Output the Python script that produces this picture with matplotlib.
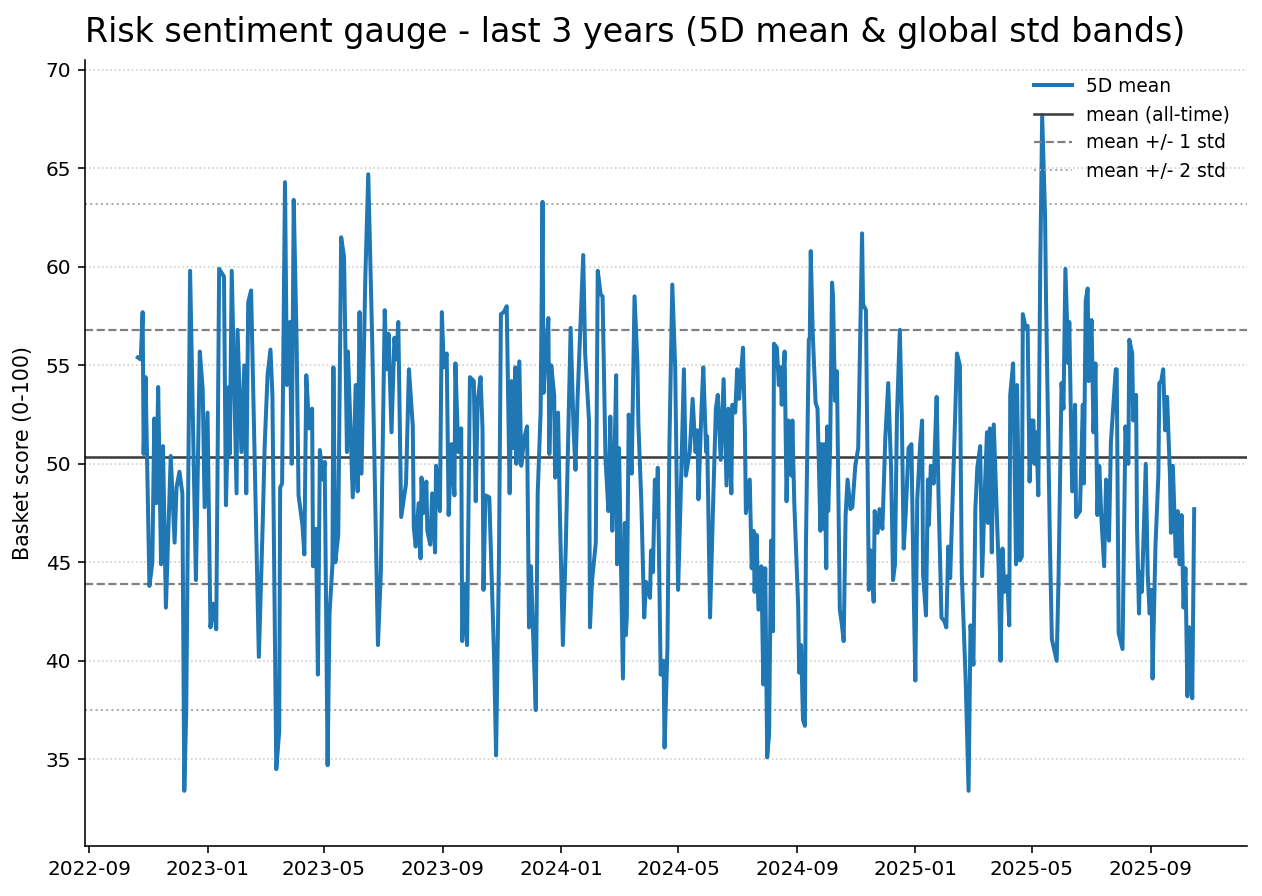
import matplotlib
matplotlib.use("Agg")
import matplotlib.pyplot as plt
import matplotlib.dates as mdates
import pandas as pd
import numpy as np

base_date = "2022-09-01"

# day offsets from base_date
day_offset = [
    50, 53, 55, 56, 58, 62, 65, 67, 69, 71, 74, 76, 79, 84, 88, 90, 93, 96, 98, 100,
    104, 110, 114, 117, 119, 122, 125, 128, 131, 134, 139, 141, 144, 145, 147, 152, 153, 157, 160, 162,
    164, 167,
    175, 179, 181, 184, 187, 189, 193, 196, 197, 199, 202, 204, 207, 209, 211, 214, 216, 220, 222, 224,
    227, 230, 231, 234, 236, 238, 241, 243, 246, 248, 251, 252, 254, 257, 260, 263, 266, 267, 272, 275,
    277, 279, 281, 285, 288, 292, 298,
    301, 305, 307, 309, 312, 315, 317, 319, 322, 327, 330, 334, 335, 337, 340, 342, 343, 345, 348, 349,
    352, 354, 357, 358, 362, 364, 366, 369, 371, 374, 377, 378, 381, 384, 385, 388, 390, 393, 397, 399,
    401, 404, 406, 407, 409, 413, 418, 420, 423, 425, 428, 431, 434,
    436, 438, 440, 441, 444, 446, 449, 452, 454, 456, 458, 461, 463, 466, 468, 469, 471, 474, 475, 477,
    480, 481, 484, 486, 489, 492, 497, 500, 502, 504, 507, 510, 512, 516, 517, 519, 523, 525, 528, 530,
    533, 536, 538, 540, 542, 544, 545, 547, 549,
    551, 553, 554, 555, 557, 560, 563, 566, 567, 570, 573, 575, 579, 580, 582, 584, 586, 587, 590, 593,
    594, 597, 599, 602, 605, 608, 611, 614, 616, 620, 623, 626, 628, 629, 632, 634, 637, 638, 641, 644,
    647, 649, 652, 655, 658, 660, 663, 664, 667, 669, 671,
    675, 677, 678, 682, 684, 686, 687, 689, 691, 694, 696, 698, 700, 702, 704, 706, 707, 710, 712, 714,
    715, 718, 719, 720, 722, 725, 726, 728, 732, 733, 735, 737, 739, 740, 743, 744, 745, 747, 750, 752,
    755, 756, 757, 759, 761, 762, 763, 765, 767, 768, 770, 772, 775, 777, 779, 781, 783, 786, 788, 791,
    794,
    798, 799, 802, 805, 807, 810, 811, 814, 816, 819, 822, 825, 828, 830, 832, 834, 837, 839, 841, 843,
    846, 849, 851, 853, 855, 858, 860, 861, 864, 866, 867, 869, 872, 873, 875, 877, 880, 883, 885, 887,
    889, 894, 896, 899, 901, 905, 908, 910, 913, 915, 917,
    920, 922, 925, 927, 928, 930, 932, 934, 936, 939, 941, 943, 945, 948, 950, 951, 954, 957, 958, 961,
    963, 964, 967, 969, 971, 973, 975, 976, 978, 980, 982, 984, 987, 988, 992, 994, 999, 1001, 1004, 1006,
    1008, 1011, 1012, 1015, 1018, 1019, 1023, 1026, 1027, 1029, 1031, 1032, 1035, 1037, 1039, 1041, 1043,
    1045, 1048, 1050, 1051, 1053, 1055, 1057, 1060, 1061, 1063, 1067, 1070, 1073, 1074, 1077, 1078, 1081, 1082, 1084, 1085,
    1087, 1091, 1093, 1095, 1097, 1098, 1101, 1104, 1105, 1107, 1109, 1111, 1113, 1116, 1117, 1119, 1122, 1124, 1126, 1128,
    1130, 1132, 1134, 1136, 1139, 1141,
]

score_5d = [
    55.4, 55.3, 57.7, 50.5, 54.4, 43.8, 45.0, 52.3, 48.0, 53.9, 44.9, 50.9, 42.7, 50.4, 46.0, 48.8, 49.6, 48.5, 33.4, 37.4,
    59.8, 44.1, 55.7, 53.8, 47.8, 52.6, 41.7, 42.9, 41.6, 59.9, 59.5, 47.9, 53.9, 50.5, 59.8, 48.5, 56.8, 50.6, 55.0, 48.5,
    58.2, 58.8,
    40.2, 47.0, 50.9, 54.5, 55.8, 53.5, 34.5, 36.4, 48.8, 49.0, 64.3, 54.0, 57.2, 50.0, 63.4, 56.2, 48.4, 46.9, 45.4, 54.5,
    51.8, 52.8, 44.8, 46.7, 39.3, 50.7, 49.2, 50.1, 34.7, 42.4, 44.9, 54.9, 45.0, 46.4, 61.5, 60.5, 50.6, 55.7, 48.3, 54.0,
    48.6, 57.7, 49.5, 59.5, 64.7, 56.4, 40.8,
    44.5, 57.8, 54.8, 56.6, 51.6, 56.4, 55.3, 57.2, 47.3, 49.0, 54.8, 51.9, 46.8, 45.8, 48.0, 45.2, 49.3, 47.5, 49.1, 46.6,
    45.9, 48.5, 45.5, 49.9, 47.6, 57.7, 54.9, 55.6, 47.4, 51.0, 48.4, 55.1, 50.6, 51.8, 41.0, 43.9, 40.8, 54.4, 54.2, 48.1,
    53.2, 54.4, 51.8, 43.6, 48.4, 48.3, 40.1, 35.2, 45.2, 57.6, 57.7, 58.0, 48.5,
    54.2, 50.8, 54.9, 50.0, 55.2, 49.9, 51.3, 51.9, 41.7, 44.8, 41.7, 37.5, 48.5, 52.6, 63.3, 53.6, 55.3, 57.4, 50.5, 55.0,
    53.5, 49.3, 52.6, 47.3, 40.8, 45.8, 56.9, 51.8, 49.7, 53.1, 56.9, 60.6, 55.6, 52.2, 41.7, 44.0, 46.0, 59.8, 58.6, 58.5,
    50.3, 47.6, 52.4, 46.6, 49.5, 54.5, 44.9, 50.8, 45.1,
    39.1, 47.0, 41.3, 42.2, 52.5, 49.5, 58.5, 55.1, 52.0, 48.1, 42.2, 44.0, 43.2, 45.6, 44.5, 49.2, 47.3, 49.8, 39.3, 40.0,
    35.6, 40.7, 50.9, 59.1, 54.9, 43.6, 49.0, 54.8, 49.4, 50.6, 53.3, 50.6, 51.7, 48.2, 52.6, 54.9, 50.6, 51.4, 42.2, 47.7,
    52.8, 53.5, 50.2, 54.3, 48.9, 52.8, 48.5, 53.0, 52.6, 54.8, 53.3,
    55.9, 51.7, 47.5, 49.2, 44.7, 46.6, 43.5, 46.4, 42.6, 44.8, 38.8, 44.7, 35.1, 36.3, 46.1, 41.5, 56.1, 55.9, 54.0, 54.9,
    53.0, 55.7, 51.9, 48.1, 52.2, 49.4, 52.2, 48.0, 42.8, 39.4, 40.8, 37.0, 36.7, 45.8, 56.3, 56.4, 60.8, 56.7, 53.1, 52.8,
    46.6, 51.0, 46.7, 51.0, 44.7, 51.9, 47.6, 50.8, 59.2, 58.5, 53.2, 54.7, 42.6, 41.9, 41.0, 47.4, 49.2, 47.7, 47.8, 49.9,
    50.8,
    61.7, 58.1, 57.8, 43.6, 45.6, 43.0, 47.6, 46.5, 47.7, 46.7, 51.3, 54.1, 49.7, 44.1, 44.9, 52.4, 56.8, 52.5, 45.7, 47.4,
    50.8, 51.0, 44.4, 39.0, 48.2, 51.0, 52.2, 44.4, 42.3, 49.2, 46.9, 49.9, 49.0, 50.6, 53.4, 48.3, 42.2, 42.0, 41.7, 45.8,
    44.2, 52.2, 55.6, 55.0, 44.4, 39.0, 33.4, 41.8, 39.8, 47.7, 49.8,
    50.9, 44.3, 49.0, 51.6, 47.0, 51.8, 45.5, 52.0, 49.1, 44.8, 40.0, 45.7, 43.5, 44.3, 41.8, 53.5, 55.1, 44.9, 54.0, 45.1,
    45.3, 57.6, 56.9, 57.0, 49.1, 52.2, 52.2, 50.0, 51.6, 48.4, 59.9, 67.7, 62.6, 58.3, 46.0, 41.1, 40.0, 44.4, 54.1, 52.8,
    59.9, 55.1, 57.2, 48.6, 53.0, 47.3, 47.6, 53.0, 49.0, 58.3, 58.9, 54.2, 57.3, 51.6, 55.1, 47.4, 49.9,
    47.4, 44.8, 49.2, 48.3, 46.1, 51.1, 52.6, 54.8, 54.8, 41.4, 40.6, 51.9, 50.0, 56.3, 55.6, 52.2, 53.5, 46.7, 42.4, 44.5,
    43.5, 50.0, 44.4, 42.4, 43.6, 39.1, 45.8, 49.4, 54.1, 54.2, 54.8, 51.7, 53.4, 49.4, 46.5, 49.9, 45.3, 47.6, 44.9, 47.4,
    42.7, 44.7, 38.2, 41.7, 38.1, 47.7,
]

mean_all = 50.34
std_all = 6.43

assert len(day_offset) == len(score_5d), (len(day_offset), len(score_5d))

dates = pd.Timestamp(base_date) + pd.to_timedelta(day_offset, unit="D")

fig = plt.figure(figsize=(1262 / 144, 896 / 144), dpi=144)
ax = fig.add_axes([85 / 1262, 1 - 846 / 896, (1247 - 85) / 1262, (846 - 60) / 896])

ax.plot(dates, score_5d, color="#1f77b4", lw=2.0, label="5D mean", zorder=3)
ax.axhline(mean_all, color="#404040", lw=1.3, label="mean (all-time)", zorder=2)
ax.axhline(mean_all + std_all, color="#808080", lw=1.1, ls="--", label="mean +/- 1 std", zorder=2)
ax.axhline(mean_all - std_all, color="#808080", lw=1.1, ls="--", zorder=2)
ax.axhline(mean_all + 2 * std_all, color="#aaaaaa", lw=1.0, ls=":", label="mean +/- 2 std", zorder=2)
ax.axhline(mean_all - 2 * std_all, color="#aaaaaa", lw=1.0, ls=":", zorder=2)

ax.set_ylim(30.6, 70.5)
ax.margins(x=0.05)
ax.set_yticks(np.arange(35, 71, 5))
ax.grid(axis="y", ls=":", color="#cccccc", lw=0.8, zorder=0)
ax.set_axisbelow(True)

ax.xaxis.set_major_locator(mdates.MonthLocator(bymonth=[1, 5, 9]))
ax.xaxis.set_major_formatter(mdates.DateFormatter("%Y-%m"))
ax.tick_params(labelsize=10)

ax.spines["top"].set_visible(False)
ax.spines["right"].set_visible(False)

ax.set_ylabel("Basket score (0-100)", fontsize=10.3, labelpad=6)
ax.set_title("Risk sentiment gauge - last 3 years (5D mean & global std bands)",
             loc="left", fontsize=16.6, pad=9)

ax.legend(loc="upper right", frameon=False, fontsize=9.3)

fig.savefig("out.png", dpi=144)
